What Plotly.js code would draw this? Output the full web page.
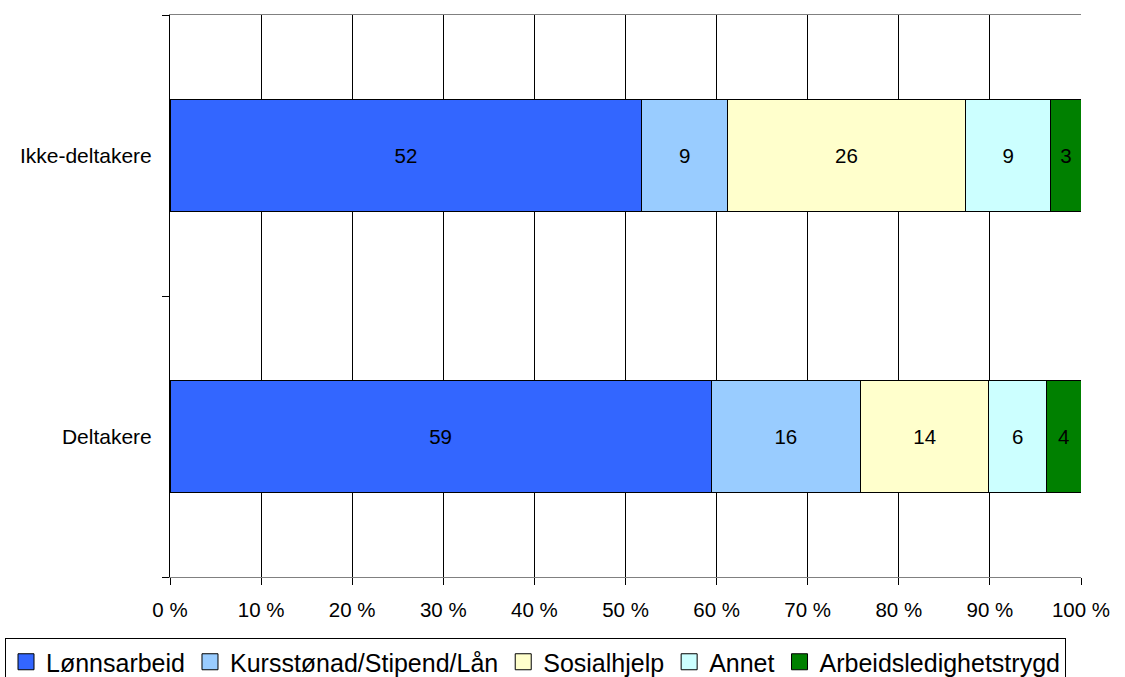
<!DOCTYPE html>
<html>
<head>
<meta charset="utf-8">
<script src="https://cdn.plot.ly/plotly-3.0.1.min.js"></script>
<style>html,body{margin:0;padding:0;background:#fff;}#chart{width:1125px;height:677px;}</style>
</head>
<body>
<div id="chart"></div>
<script>
const categories = ["Deltakere", "Ikke-deltakere"];
const seriesNames = ["Lønnsarbeid", "Kursstønad/Stipend/Lån", "Sosialhjelp", "Annet", "Arbeidsledighetstrygd"];
const lonnsarbeid = [59.4, 51.8];
const kursstonad = [16.4, 9.4];
const sosialhjelp = [14.1, 26.1];
const annet = [6.3, 9.4];
const arbeidsledighetstrygd = [3.8, 3.3];
const xTickValues = [0, 10, 20, 30, 40, 50, 60, 70, 80, 90, 100];
const xTickLabels = ["0 %", "10 %", "20 %", "30 %", "40 %", "50 %", "60 %", "70 %", "80 %", "90 %", "100 %"];

const colors = ["#3366FF", "#99CCFF", "#FFFFCC", "#CCFFFF", "#008000"];
const seriesValues = [lonnsarbeid, kursstonad, sosialhjelp, annet, arbeidsledighetstrygd];
const FONT = "Arial, 'Liberation Sans', sans-serif";

const barTraces = seriesValues.map((vals, i) => ({
  type: "bar",
  orientation: "h",
  name: seriesNames[i],
  legendgroup: seriesNames[i],
  showlegend: false,
  y: categories,
  x: vals,
  width: 0.4,
  marker: {color: colors[i], line: {color: "#000", width: 1}},
  texttemplate: "%{x:.0f}",
  textposition: "inside",
  insidetextanchor: "middle",
  textangle: 0,
  constraintext: "none",
  textfont: {family: FONT, size: 20.5, color: "#000"},
  hoverinfo: "skip"
}));

// legend-only entries with larger square swatches (no visible marks)
const legendTraces = seriesNames.map((name, i) => ({
  type: "scatter",
  mode: "markers",
  name: name,
  legendgroup: name,
  showlegend: true,
  x: [null],
  y: [null],
  marker: {symbol: "square", size: 18, color: colors[i], line: {color: "#000", width: 1}},
  hoverinfo: "skip"
}));

const layout = {
  width: 1125, height: 677,
  margin: {l: 170, r: 44, t: 15, b: 100, pad: 0, autoexpand: false},
  barmode: "stack",
  paper_bgcolor: "#fff",
  plot_bgcolor: "#fff",
  font: {family: FONT, size: 20, color: "#000"},
  showlegend: true,
  legend: {
    orientation: "h",
    xref: "paper", yref: "paper",
    x: (5 - 170) / 911, xanchor: "left",
    y: (577 - 638) / 562, yanchor: "top",
    bgcolor: "#fff", bordercolor: "#000", borderwidth: 1,
    font: {family: FONT, size: 25, color: "#000"},
    traceorder: "normal",
    itemwidth: 30
  },
  xaxis: {
    range: [0, 100],
    tickvals: xTickValues,
    ticktext: xTickLabels,
    showgrid: true, gridcolor: "#000", gridwidth: 1,
    zeroline: false,
    showline: true, linecolor: "#808080", linewidth: 1, mirror: true,
    ticks: "outside", ticklen: 7, tickcolor: "#000", tickwidth: 1,
    ticklabelstandoff: 7,
    tickfont: {family: FONT, size: 20.5, color: "#000"},
    fixedrange: true
  },
  yaxis: {
    type: "category",
    categoryorder: "array", categoryarray: categories,
    range: [-0.5, 1.5],
    tickson: "boundaries",
    showgrid: false, zeroline: false,
    showline: true, linecolor: "#000", linewidth: 1,
    ticks: "outside", ticklen: 7, tickcolor: "#000", tickwidth: 1,
    ticklabelstandoff: 13,
    tickfont: {family: FONT, size: 21, color: "#000"},
    fixedrange: true
  }
};

Plotly.newPlot("chart", barTraces.concat(legendTraces), layout, {staticPlot: true, displayModeBar: false});
</script>
</body>
</html>
